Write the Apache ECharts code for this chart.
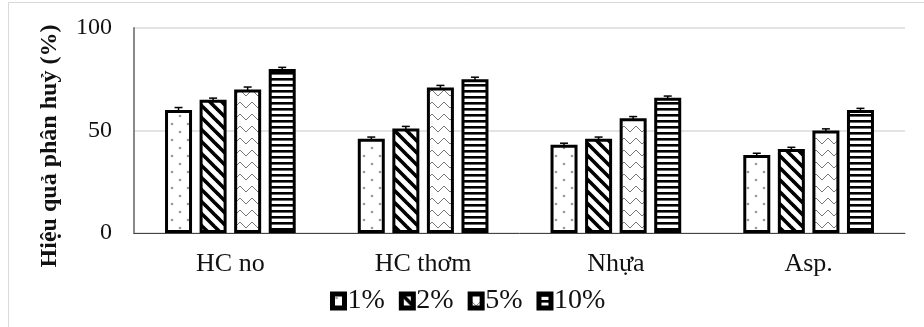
<!DOCTYPE html>
<html>
<head>
<meta charset="utf-8">
<script src="https://cdn.jsdelivr.net/npm/echarts@6/dist/echarts.min.js"></script>
<style>
  html, body { margin: 0; padding: 0; background: #fff; }
  #chart { width: 924px; height: 327px; }
</style>
</head>
<body>
<div id="chart"></div>
<script>
// Degradation efficiency (%) by fraction and dose
const categories = ['HC no', 'HC thơm', 'Nhựa', 'Asp.'];
const seriesNames = ['1%', '2%', '5%', '10%'];
const values1 = [60, 46, 43, 38];
const values2 = [65, 51, 46, 41];
const values5 = [70, 71, 56, 50];
const values10 = [80, 75, 66, 60];
const errors1 = [1.2, 0.8, 0.8, 0.9];
const errors2 = [0.8, 1.0, 0.8, 0.8];
const errors5 = [1.2, 1.0, 0.8, 0.8];
const errors10 = [0.8, 1.0, 0.8, 0.8];
const yTicks = [0, 50, 100];
const yTitle = 'Hiệu quả phân huỷ (%)';

const allValues = [values1, values2, values5, values10];
const allErrors = [errors1, errors2, errors5, errors10];

// Hatch fills drawn onto small tiles
function tile(w, h, draw) {
  const c = document.createElement('canvas');
  c.width = w; c.height = h;
  const ctx = c.getContext('2d');
  ctx.fillStyle = '#fff';
  ctx.fillRect(0, 0, w, h);
  draw(ctx);
  return { image: c, repeat: 'repeat' };
}
const dotFill = tile(16, 16, ctx => {
  ctx.fillStyle = '#9a9a9a';
  ctx.beginPath(); ctx.arc(4, 4, 1.3, 0, Math.PI * 2); ctx.fill();
  ctx.beginPath(); ctx.arc(12, 12, 1.3, 0, Math.PI * 2); ctx.fill();
});
const diagFill = tile(12, 12, ctx => {
  ctx.strokeStyle = '#000';
  ctx.lineWidth = 3.6;
  for (let k = -2; k <= 2; k++) {
    ctx.beginPath();
    ctx.moveTo(k * 12 - 2, -2);
    ctx.lineTo(k * 12 + 14, 14);
    ctx.stroke();
  }
});
const zigFill = tile(12, 12, ctx => {
  ctx.strokeStyle = '#777';
  ctx.lineWidth = 1;
  for (let y = -6; y <= 18; y += 12) {
    ctx.beginPath();
    ctx.moveTo(0, y); ctx.lineTo(6, y + 6); ctx.lineTo(12, y);
    ctx.stroke();
  }
  ctx.beginPath();
  ctx.moveTo(0, 6); ctx.lineTo(6, 12); ctx.lineTo(12, 6);
  ctx.stroke();
});
const hFill = tile(8, 6, ctx => {
  ctx.fillStyle = '#000';
  ctx.fillRect(0, 0, 8, 2.6);
});
const fills = [dotFill, diagFill, zigFill, hFill];

const barWidth = 27;
const barGapRatio = 0.28;
const serifFont = '"Liberation Serif", "DejaVu Serif", serif';

const barSeries = seriesNames.map((name, i) => ({
  name: name,
  type: 'bar',
  data: allValues[i],
  barWidth: barWidth,
  barGap: (barGapRatio * 100) + '%',
  itemStyle: { color: fills[i], borderColor: '#000', borderWidth: 3 },
  z: 2
}));

// Error bars placed over each bar of a series
const errorSeries = seriesNames.map((name, i) => ({
  type: 'custom',
  name: name + ' err',
  data: categories.map((c, j) => [j, allValues[i][j], allErrors[i][j]]),
  z: 5,
  silent: true,
  renderItem: (params, api) => {
    const step = barWidth * (1 + barGapRatio);
    const offset = (i - 1.5) * step;
    const v = api.value(1), e = api.value(2);
    const top = api.coord([api.value(0), v + e]);
    const bot = api.coord([api.value(0), v - e]);
    const x = top[0] + offset;
    const cap = 4;
    const style = { stroke: '#000', lineWidth: 1.5 };
    return {
      type: 'group',
      children: [
        { type: 'line', shape: { x1: x, y1: top[1], x2: x, y2: bot[1] }, style },
        { type: 'line', shape: { x1: x - cap, y1: top[1], x2: x + cap, y2: top[1] }, style }
      ]
    };
  }
}));

const chart = echarts.init(document.getElementById('chart'), null, { renderer: 'canvas' });
chart.setOption({
  animation: false,
  backgroundColor: '#fff',
  graphic: [{
    type: 'rect',
    shape: { x: 8.5, y: 2.5, width: 940, height: 400 },
    style: { fill: 'none', stroke: '#d9d9d9', lineWidth: 1 },
    silent: true
  }, {
    type: 'text',
    x: 50,
    y: 146,
    rotation: Math.PI / 2,
    style: {
      text: yTitle,
      font: 'bold 24px "Liberation Serif", serif',
      fill: '#111',
      align: 'center',
      verticalAlign: 'middle'
    },
    silent: true
  }],
  grid: { left: 134, right: 19, top: 28, bottom: 94 },
  legend: {
    data: seriesNames.map((n, i) => ({
      name: n,
      itemStyle: { color: fills[i], borderColor: '#000', borderWidth: 5 }
    })),
    top: 287,
    left: 330,
    padding: 0,
    itemWidth: 12,
    itemHeight: 14,
    itemGap: 14,
    icon: 'rect',
    textStyle: { fontFamily: serifFont, fontSize: 28, color: '#111', padding: [0, 0, 0, -2] }
  },
  xAxis: {
    type: 'category',
    data: categories,
    axisLine: { lineStyle: { color: '#444', width: 1 } },
    axisTick: { show: false },
    axisLabel: { fontFamily: serifFont, fontSize: 26, color: '#111', margin: 18 }
  },
  yAxis: {
    type: 'value',
    min: 0,
    max: 100,
    interval: 50,
    axisLine: { show: true, lineStyle: { color: '#888', width: 2 } },
    axisTick: { show: false },
    axisLabel: {
      fontFamily: serifFont, fontSize: 24, color: '#111', margin: 22,
      formatter: v => (yTicks.indexOf(v) >= 0 ? String(v) : '')
    },
    splitLine: { lineStyle: { color: '#e3e3e3', width: 2 } }
  },
  series: barSeries.concat(errorSeries)
});
</script>
</body>
</html>
